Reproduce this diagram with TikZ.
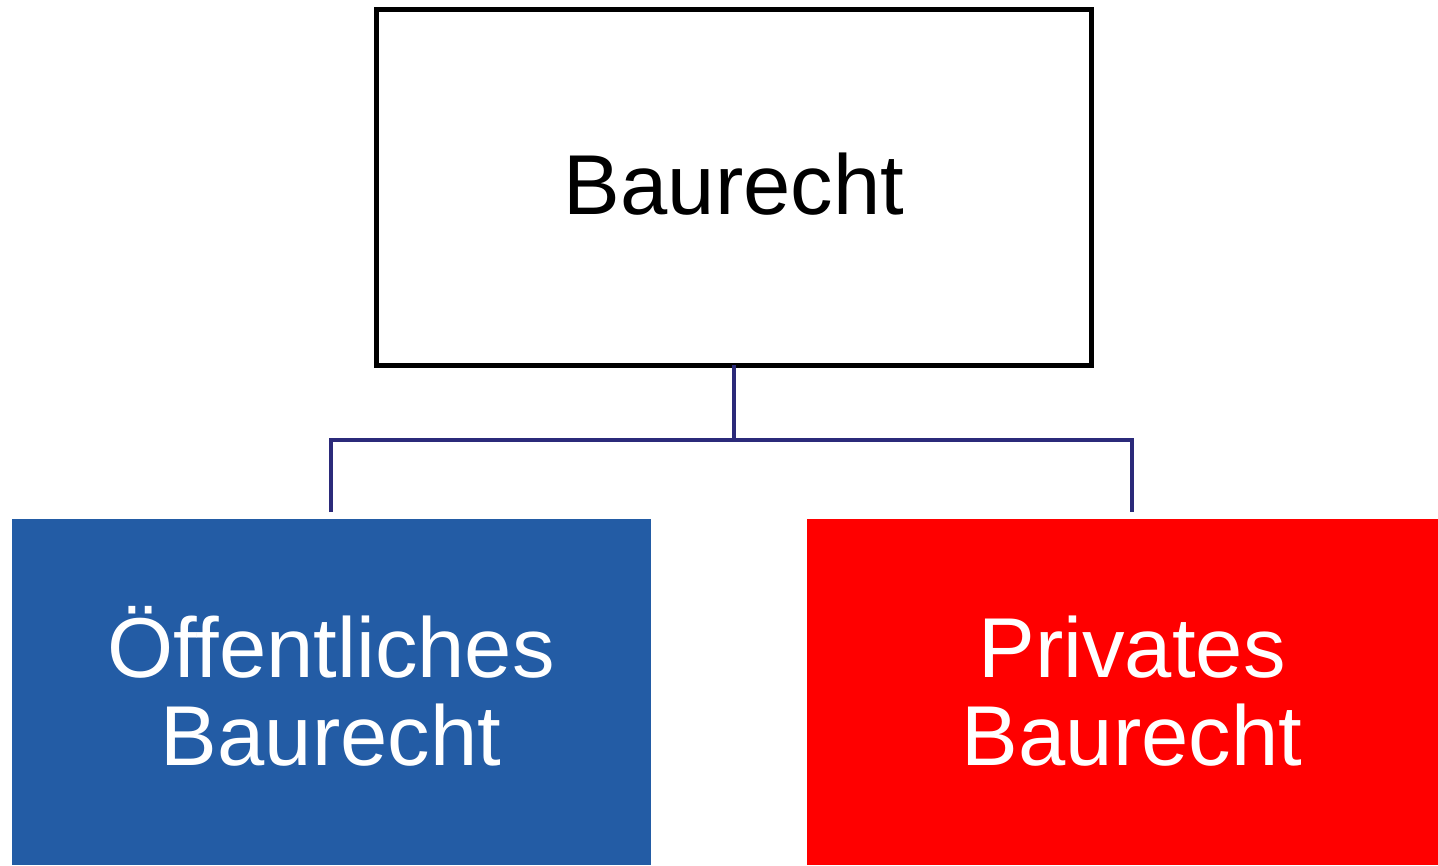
\documentclass[tikz,border=0pt]{standalone}
\usepackage{fontspec}
\setmainfont{Liberation Sans}
\definecolor{navy}{RGB}{43,42,122}
\definecolor{boxblue}{RGB}{35,92,165}
\definecolor{boxred}{RGB}{255,0,0}
\tikzset{
  topbox/.style={draw=black, line width=5pt, fill=white},
  link/.style={draw=navy, line width=4.5pt},
  lbl/.style={font=\fontsize{85}{85}\selectfont, align=center, inner sep=0pt},
}
\begin{document}
\begin{tikzpicture}[x=1pt,y=-1pt]
\useasboundingbox (0,0) rectangle (1438,865);
\fill[white] (0,0) rectangle (1438,865);
% top box
\draw[topbox] (376,9) rectangle (1091,365);
\node[lbl, anchor=base] (top) at (734,214) {Baurecht};
\coordinate (topbottom) at (734,365);
% children
\fill[boxblue] (12,519) rectangle (651,865);
\fill[boxred] (807,519) rectangle (1445,865);
\node[lbl, text=white, anchor=base] (l1) at (331,677) {Öffentliches};
\node[lbl, text=white, anchor=base] (l2) at (331,765) {Baurecht};
\node[lbl, text=white, anchor=base] (r1) at (1132,677) {Privates};
\node[lbl, text=white, anchor=base] (r2) at (1132,765) {Baurecht};
\coordinate (lt) at (331,512);
\coordinate (rt) at (1132,512);
\coordinate (mid) at (734,440);
\draw[link] (topbottom) -- (mid);
\draw[link, line join=miter] (lt) |- (mid) -| (rt);
\end{tikzpicture}
\end{document}
